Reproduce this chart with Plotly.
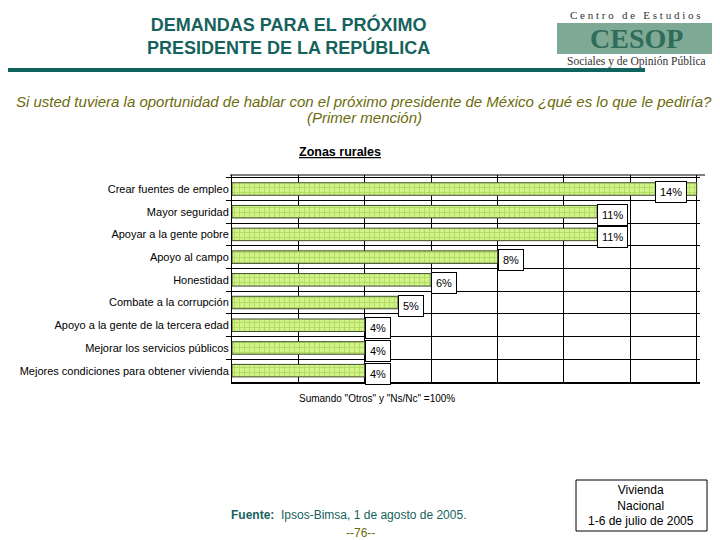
import plotly.graph_objects as go

categories = [
    "Crear fuentes de empleo",
    "Mayor seguridad",
    "Apoyar a la gente pobre",
    "Apoyo al campo",
    "Honestidad",
    "Combate a la corrupción",
    "Apoyo a la gente de la tercera edad",
    "Mejorar los servicios públicos",
    "Mejores condiciones para obtener vivienda",
]
values = [14, 11, 11, 8, 6, 5, 4, 4, 4]
value_labels = ["14%", "11%", "11%", "8%", "6%", "5%", "4%", "4%", "4%"]
x_ticks = [0, 2, 4, 6, 8, 10, 12, 14]

TEAL = "#16625d"
OLIVE = "#6b6b0c"
FONT = "Liberation Sans, Arial, sans-serif"
SERIF = "Liberation Serif, Times New Roman, serif"

# page body has an 8px margin; work in window pixels
OFF = 8
W, H = 720 - OFF, 540 - OFF


def px(x):
    return (x - OFF) / W


def py(y):
    return 1 - (y - OFF) / H


fig = go.Figure()
fig.add_trace(go.Bar(
    y=categories, x=values, orientation="h",
    marker=dict(color="#d2f28a",
                line=dict(color="#3f4a2a", width=1),
                pattern=dict(shape="+", fgcolor="#92c83e", size=5, solidity=0.35)),
    width=0.55,
    hoverinfo="skip",
))

annotations = []
for c, v, t in zip(categories, values, value_labels):
    last = v == max(values)
    annotations.append(dict(
        x=v, y=c, xref="x", yref="y", text=t, showarrow=False,
        xanchor="right" if last else "left", xshift=-10 if last else 0,
        yshift=-3,
        font=dict(family=FONT, size=11, color="black"),
        bgcolor="white", bordercolor="black", borderwidth=1, borderpad=4,
    ))

annotations += [
    dict(x=px(288), y=py(36), xref="paper", yref="paper", showarrow=False,
         text="<b>DEMANDAS PARA EL PRÓXIMO<br>PRESIDENTE DE LA REPÚBLICA</b>",
         font=dict(family=FONT, size=18, color=TEAL), align="center",
         xanchor="center", yanchor="middle"),
    dict(x=px(635), y=py(8.5), xref="paper", yref="paper", showarrow=False,
         text="C e n t r o   d e   E s t u d i o s", xanchor="center", yanchor="top",
         borderpad=0, font=dict(family=SERIF, size=11, color="#333333")),
    dict(x=px(636), y=py(38.5), xref="paper", yref="paper", showarrow=False,
         text="<b>CESOP</b>", xanchor="center", yanchor="middle", borderpad=0,
         font=dict(family=SERIF, size=28, color="#2f6c5b")),
    dict(x=px(636), y=py(61), xref="paper", yref="paper", showarrow=False,
         text="Sociales y de Opinión Pública", xanchor="center", yanchor="middle",
         borderpad=0, font=dict(family=SERIF, size=11.5, color="#333333")),
    dict(x=px(364), y=py(101), xref="paper", yref="paper", showarrow=False,
         text="<i>Si usted tuviera la oportunidad de hablar con el próximo presidente de México ¿qué es lo que le pediría?</i>",
         xanchor="center", yanchor="middle",
         font=dict(family=FONT, size=15, color=OLIVE)),
    dict(x=px(364), y=py(117), xref="paper", yref="paper", showarrow=False,
         text="<i>(Primer mención)</i>", xanchor="center", yanchor="middle",
         font=dict(family=FONT, size=15, color=OLIVE)),
    dict(x=px(340), y=py(152), xref="paper", yref="paper", showarrow=False,
         text="<b><u>Zonas rurales</u></b>", xanchor="center", yanchor="middle",
         font=dict(family=FONT, size=12.5, color="black")),
    dict(x=px(377), y=py(398), xref="paper", yref="paper", showarrow=False,
         text="Sumando \"Otros\" y \"Ns/Nc\" =100%", xanchor="center", yanchor="middle",
         font=dict(family=FONT, size=10, color="black")),
    dict(x=px(229), y=py(515), xref="paper", yref="paper", showarrow=False,
         text="<b>Fuente:</b>  Ipsos-Bimsa, 1 de agosto de 2005.", xanchor="left", yanchor="middle",
         font=dict(family=FONT, size=12, color=TEAL)),
    dict(x=px(360), y=py(533), xref="paper", yref="paper", showarrow=False,
         text="--76--", xanchor="center", yanchor="middle",
         font=dict(family=FONT, size=12, color=OLIVE)),
    dict(x=px(641), y=py(505), xref="paper", yref="paper", showarrow=False,
         text="Vivienda<br>Nacional<br>1-6 de julio de 2005", xanchor="center", yanchor="middle",
         font=dict(family=FONT, size=12, color="black"), align="center"),
]

shapes = [
    dict(type="rect", xref="paper", yref="paper", x0=px(0), x1=px(645),
         y0=py(72), y1=py(68), fillcolor="#0f6460", line=dict(width=0)),
    dict(type="rect", xref="paper", yref="paper", x0=px(557), x1=px(715),
         y0=py(54), y1=py(23), fillcolor="#7ea995", line=dict(width=0), layer="below"),
    dict(type="rect", xref="paper", yref="paper", x0=px(576), x1=px(707),
         y0=py(531), y1=py(480), fillcolor="white", line=dict(color="black", width=1),
         layer="below"),
    dict(type="line", xref="paper", yref="paper", x0=px(230), x1=px(705),
         y0=py(175), y1=py(175), line=dict(color="black", width=1)),
]

fig.update_layout(
    width=W, height=H,
    margin=dict(l=0, r=0, t=0, b=0),
    paper_bgcolor="white", plot_bgcolor="white",
    showlegend=False,
    annotations=annotations,
    shapes=shapes,
    xaxis=dict(domain=[px(232), px(700)], range=[0, 14.1], tickvals=x_ticks,
               showticklabels=False, showgrid=True, gridcolor="black", gridwidth=1,
               zeroline=False, showline=True, linecolor="black", linewidth=2,
               ticks="", fixedrange=True),
    yaxis=dict(domain=[py(382), py(175)], autorange="reversed",
               type="category", tickson="boundaries", ticks="outside", ticklen=5,
               tickcolor="black", showgrid=True, gridcolor="black", gridwidth=1,
               showline=True, linecolor="black", linewidth=1,
               tickfont=dict(family=FONT, size=11, color="black"),
               fixedrange=True),
    bargap=0.45,
)

fig.write_html("out.html")
